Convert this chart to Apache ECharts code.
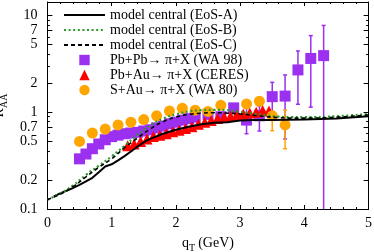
<!DOCTYPE html>
<html><head><meta charset="utf-8">
<script src="https://cdn.jsdelivr.net/npm/echarts@6/dist/echarts.min.js"></script>
<style>html,body{margin:0;padding:0;background:#fff}#c{width:374px;height:252px}</style>
</head><body><div id="c"></div>
<script>
// ---- data ----
const xTicks = [0, 1, 2, 3, 4, 5];
const yTickLabels = [0.1, 0.2, 0.5, 0.7, 1, 2, 5, 7, 10];
const yMinorTicks = [0.3, 0.4, 0.6, 0.8, 0.9, 3, 4, 6, 8, 9];

const eosA = [[0.1,0.135],[0.2,0.145],[0.3,0.155],[0.4,0.165],[0.5,0.178],[0.6,0.193],[0.7,0.21],[0.8,0.24],[0.9,0.275],[1.0,0.29],[1.1,0.318],[1.2,0.352],[1.3,0.393],[1.4,0.44],[1.5,0.49],[1.6,0.53],[1.8,0.6],[2.0,0.66],[2.2,0.71],[2.4,0.75],[2.6,0.78],[2.8,0.79],[3.0,0.82],[3.2,0.83],[3.5,0.83],[4.0,0.84],[4.5,0.86],[5.0,0.91]];
const eosB = [[0,0.125],[0.2,0.145],[0.4,0.175],[0.6,0.225],[0.8,0.28],[1.0,0.35],[1.2,0.45],[1.4,0.58],[1.6,0.73],[1.8,0.86],[2.0,0.95],[2.2,1.02],[2.4,1.05],[2.6,1.06],[2.8,1.05],[3.0,1.01],[3.2,0.97],[3.4,0.93],[3.6,0.9],[3.8,0.89],[4.0,0.89],[4.5,0.91],[5.0,0.96]];
const eosC = [[0,0.125],[0.2,0.142],[0.4,0.17],[0.6,0.215],[0.8,0.27],[1.0,0.33],[1.2,0.43],[1.4,0.54],[1.6,0.67],[1.8,0.8],[2.0,0.89],[2.2,0.95],[2.4,0.98],[2.6,0.99],[2.8,0.98],[3.0,0.96],[3.2,0.93],[3.4,0.9],[3.6,0.88],[3.8,0.87],[4.0,0.87],[4.5,0.89],[5.0,0.94]];

const wa98 = [[0.5,0.33],[0.6,0.37],[0.7,0.42],[0.8,0.47],[0.9,0.52],[1.0,0.56],[1.1,0.58],[1.2,0.60],[1.3,0.61],[1.4,0.62],[1.5,0.64],[1.6,0.66],[1.7,0.69],[1.8,0.72],[1.9,0.76],[2.0,0.79],[2.1,0.83],[2.2,0.86],[2.3,0.89],[2.5,0.95],[2.7,0.90],[2.9,1.11],[3.1,0.83],[3.3,0.92],[3.5,1.45],[3.7,1.47],[3.9,2.74],[4.1,3.6],[4.3,3.85]];
const wa98Err = [[3.1,0.6,1.1],[3.3,0.64,1.16],[3.5,1.0,2.04],[3.7,0.53,2.43],[3.9,1.21,4.3],[4.1,1.13,6.2],[4.3,0.08,7.9]];

const ceres = [[1.25,0.45],[1.35,0.47],[1.45,0.50],[1.55,0.53],[1.65,0.56],[1.75,0.58],[1.85,0.60],[1.95,0.63],[2.05,0.65],[2.15,0.68],[2.25,0.71],[2.35,0.75],[2.45,0.79],[2.55,0.82],[2.65,0.86],[2.75,0.89],[2.85,0.91],[2.95,0.95],[3.05,0.96],[3.15,0.98],[3.25,1.00],[3.35,1.04],[3.45,1.03]];

const wa80 = [[0.5,0.50],[0.7,0.61],[0.9,0.67],[1.1,0.74],[1.3,0.79],[1.5,0.84],[1.7,0.92],[1.9,1.03],[2.1,1.10],[2.3,1.05],[2.5,1.02],[2.7,1.18],[3.1,1.22],[3.3,1.30],[3.5,0.92],[3.7,0.74]];
const wa80Err = [[3.5,0.645,1.02],[3.7,0.42,1.05]];

const names = ['model central (EoS-A)','model central (EoS-B)','model central (EoS-C)','Pb+Pb\u2192 \u03c0+X (WA 98)','Pb+Au\u2192 \u03c0+X (CERES)','S+Au\u2192 \u03c0+X (WA 80)'];

// ---- chart ----
const FONT = 'Liberation Serif';
const PURPLE = '#9b30f0', RED = '#ff0000', ORANGE = '#ffa500', GREEN = '#2a9a2a';
const YMIN = 0.1, YMAX = 13.8;

function errBar(color) {
  return function (params, api) {
    const x = api.value(0), lo = api.value(1), hi = api.value(2);
    const p1 = api.coord([x, hi]), p2 = api.coord([x, lo]);
    const w = 2, st = {stroke: color, lineWidth: 1.5};
    return {type: 'group', children: [
      {type: 'line', shape: {x1: p1[0], y1: p1[1], x2: p2[0], y2: p2[1]}, style: st},
      {type: 'line', shape: {x1: p1[0]-w, y1: p1[1], x2: p1[0]+w, y2: p1[1]}, style: st},
      {type: 'line', shape: {x1: p2[0]-w, y1: p2[1], x2: p2[0]+w, y2: p2[1]}, style: st}
    ]};
  };
}

const xBase = {type: 'value', min: 0, max: 5, interval: 1, splitLine: {show: false},
  axisLine: {lineStyle: {color: '#000', width: 1}},
  minorTick: {show: true, splitNumber: 5, length: 2, lineStyle: {color: '#000'}},
  axisTick: {inside: true, length: 4, lineStyle: {color: '#000'}}};
const yBase = (pos, minor) => ({type: 'log', logBase: 10, min: YMIN, max: YMAX, position: pos, offset: 0,
  splitLine: {show: false}, axisLine: {show: !minor, lineStyle: {color: '#000', width: 1}},
  axisTick: {inside: true, length: minor ? 2.5 : 5, customValues: minor ? yMinorTicks : yTickLabels, lineStyle: {color: '#000'}},
  axisLabel: {show: false}});

const yLeft = Object.assign(yBase('left', false), {
  axisLabel: {show: true, customValues: yTickLabels, margin: 10, color: '#000', fontFamily: FONT, fontSize: 14,
    formatter: v => String(+v.toPrecision(3))},
  name: '{r|R}{s|AA}', nameLocation: 'middle', nameGap: 33, nameRotate: 90,
  nameTextStyle: {color: '#000', fontFamily: FONT, rich: {r: {fontSize: 14, fontFamily: FONT, color: '#000'}, s: {fontSize: 10, fontFamily: FONT, color: '#000', padding: [9, 0, 0, 0]}}}
});

const lineLegendItem = n => ({name: n, itemStyle: {opacity: 0}});
// data points drawn as symbol-only line series (no connecting line)
const pointSeries = (name, data, symbol, color, z) => ({
  name, type: 'line', data, symbol, symbolSize: 11, showSymbol: true, showAllSymbol: true,
  lineStyle: {width: 0, opacity: 0}, itemStyle: {color, opacity: 1}, z
});

const option = {
  animation: false,
  backgroundColor: '#fff',
  textStyle: {fontFamily: FONT},
  grid: {left: 47.4, right: 5.4, top: 2, bottom: 43, containLabel: false, outerBoundsMode: 'none'},
  legend: {
    data: [lineLegendItem(names[0]), lineLegendItem(names[1]), lineLegendItem(names[2]), names[3], names[4], names[5]],
    orient: 'vertical', left: 63, top: 8, padding: 0, itemWidth: 41, itemHeight: 13, itemGap: 1,
    textStyle: {fontFamily: FONT, fontSize: 14, color: '#000', lineHeight: 13},
    selectedMode: false
  },
  xAxis: [
    Object.assign({}, xBase, {position: 'bottom',
      axisLabel: {color: '#000', fontFamily: FONT, fontSize: 14, margin: 7},
      name: '{q|q}{s|T} {q|(GeV)}', nameLocation: 'middle', nameGap: 25,
      nameTextStyle: {color: '#000', rich: {q: {fontSize: 14, fontFamily: FONT, color: '#000'}, s: {fontSize: 10, fontFamily: FONT, color: '#000', padding: [9, 0, 0, 0]}}}}),
    Object.assign({}, xBase, {position: 'top', axisLabel: {show: false}})
  ],
  yAxis: [yLeft, yBase('left', true), yBase('right', false), yBase('right', true)],
  series: [
    {type: 'custom', renderItem: errBar(PURPLE), data: wa98Err, clip: true, z: 2, silent: true},
    {type: 'custom', renderItem: errBar(ORANGE), data: wa80Err, clip: true, z: 2, silent: true},
    pointSeries(names[3], wa98, 'rect', PURPLE, 3),
    pointSeries(names[4], ceres, 'triangle', RED, 4),
    pointSeries(names[5], wa80, 'circle', ORANGE, 5),
    {name: names[0], type: 'line', data: eosA, symbol: 'none', smooth: false, lineStyle: {color: '#000', width: 2}, itemStyle: {color: '#000'}, z: 6},
    {name: names[1], type: 'line', data: eosB, symbol: 'none', smooth: true, lineStyle: {color: GREEN, width: 2.2, type: [2, 2.6]}, itemStyle: {color: GREEN}, z: 7},
    {name: names[2], type: 'line', data: eosC, symbol: 'none', smooth: true, lineStyle: {color: '#000', width: 1.6, type: [4, 3]}, itemStyle: {color: '#000'}, z: 8}
  ]
};
const chart = echarts.init(document.getElementById('c'), null, {renderer: 'canvas'});
chart.setOption(option);
</script></body></html>
